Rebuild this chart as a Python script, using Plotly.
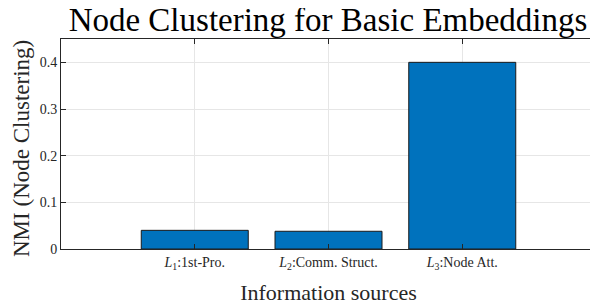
import plotly.graph_objects as go

categories = ["<i>L</i><sub>1</sub>:1st-Pro.", "<i>L</i><sub>2</sub>:Comm. Struct.", "<i>L</i><sub>3</sub>:Node Att."]
positions = [1, 2, 3]
nmi_values = [0.040, 0.038, 0.400]
y_ticks = [0, 0.1, 0.2, 0.3, 0.4]
y_ticktext = ["0", "0.1", "0.2", "0.3", "0.4"]

serif = "Liberation Serif, Times New Roman, Times, serif"
axis_color = "#262626"

fig = go.Figure()
fig.add_trace(go.Bar(
    x=positions, y=nmi_values, width=0.8,
    marker=dict(color="#0072BD", line=dict(color="#1a1a1a", width=1)),
))

# the page body adds an 8px margin, so the figure is 8px smaller and shifted
fig.update_layout(
    width=590, height=297,
    margin=dict(l=53, r=2, t=31, b=56, autoexpand=False),
    paper_bgcolor="white", plot_bgcolor="white",
    showlegend=False,
    font=dict(family=serif, color=axis_color, size=14),
    title=dict(text="Node Clustering for Basic Embeddings", x=0.5424, xanchor="center",
               xref="container", yref="container", y=1.0, yanchor="top",
               pad=dict(t=0, b=0),
               font=dict(size=33, color="black", family=serif)),
    xaxis=dict(range=[0, 4], tickvals=positions, ticktext=categories,
               ticks="inside", ticklen=5, tickcolor=axis_color,
               showgrid=True, gridcolor="#e6e6e6", gridwidth=1,
               showline=True, linecolor=axis_color, linewidth=1, mirror="ticks",
               tickfont=dict(size=14, color=axis_color, family=serif),
               automargin=False,
               title=dict(text="Information sources", font=dict(size=22, color=axis_color, family=serif), standoff=14),
               zeroline=False),
    yaxis=dict(range=[0, 0.45], tickvals=y_ticks, ticktext=y_ticktext,
               ticks="inside", ticklen=5, tickcolor=axis_color,
               showgrid=True, gridcolor="#e6e6e6", gridwidth=1,
               showline=True, linecolor=axis_color, linewidth=1, mirror="ticks",
               tickfont=dict(size=14, color=axis_color, family=serif),
               automargin=False,
               zeroline=False),
    annotations=[dict(text="NMI (Node Clustering)", xref="paper", yref="paper",
                      x=0, y=0.5, xanchor="center", yanchor="middle",
                      xshift=-40, yshift=-5, textangle=-90, showarrow=False,
                      font=dict(size=23, color=axis_color, family=serif))],
)
fig.write_html("out.html")
